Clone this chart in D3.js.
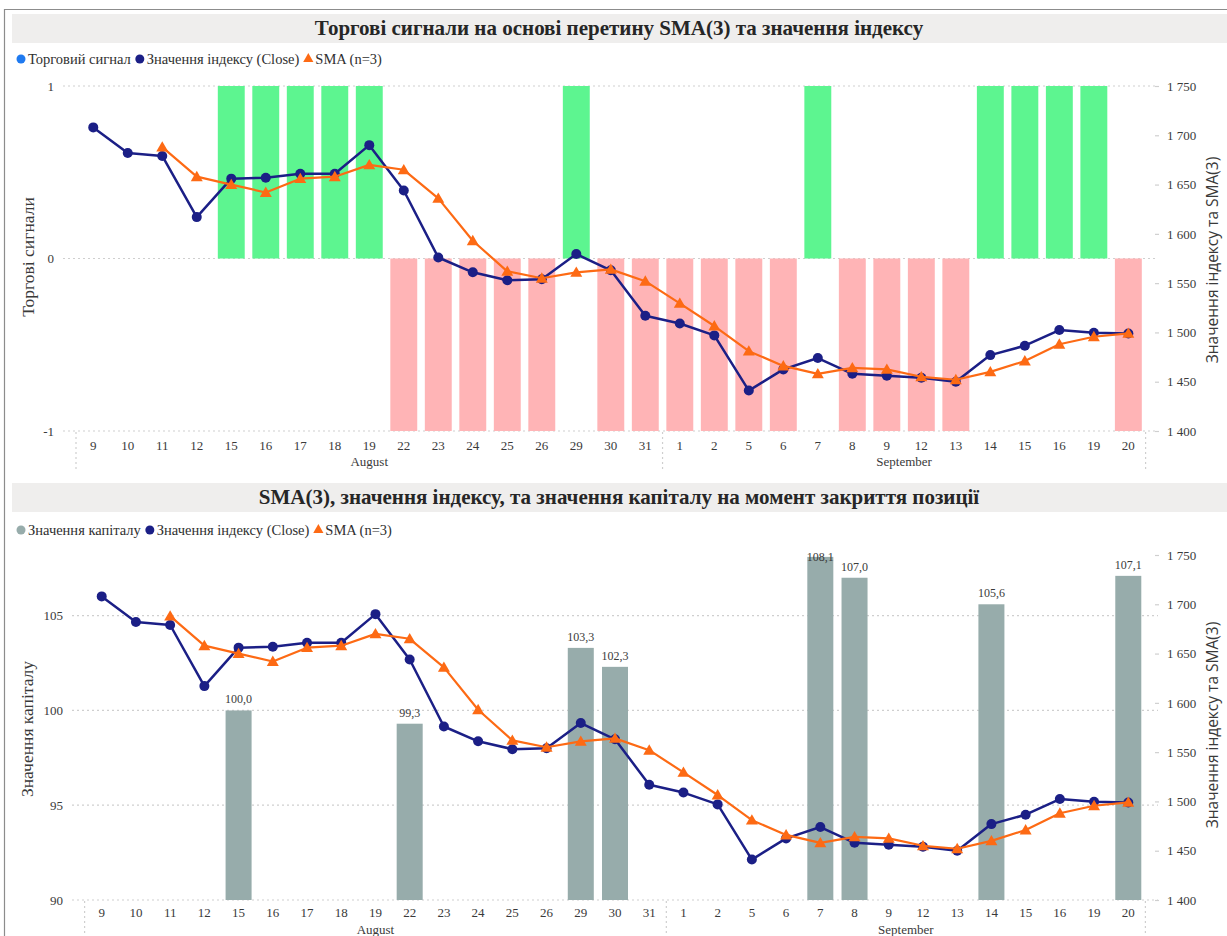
<!DOCTYPE html>
<html>
<head>
<meta charset="utf-8">
<script src="https://cdn.jsdelivr.net/npm/d3@7"></script>
<style>
  body { margin: 0; background: #fff; }
  svg { display: block; }
  svg text { font-family: "Liberation Serif", "Tinos", "DejaVu Serif", serif; fill: #3a3a3a; }
</style>
</head>
<body>
<svg id="chart" width="1227" height="936"></svg>
<script>
// Trading days (August – September)
const days = ["9","10","11","12","15","16","17","18","19","22","23","24","25","26","29","30","31",
              "1","2","5","6","7","8","9","12","13","14","15","16","19","20"];
const monthNames = ["August", "September"];
const monthLengths = [17, 14];

// Index close values
const closeValues = [1708, 1682, 1679, 1617, 1656, 1657, 1661, 1661, 1690, 1644, 1576, 1561, 1553, 1554, 1579.5, 1563, 1517,
                     1509, 1497, 1441, 1462.5, 1474, 1458, 1456, 1454, 1450, 1477, 1486.5, 1502.4, 1499.7, 1499];
// Simple moving average, n = 3
const smaValues = [null, null, 1688, 1658, 1650, 1642, 1656, 1658, 1670, 1665, 1636, 1593, 1562, 1555, 1561, 1564, 1552,
                   1529.5, 1506.5, 1481, 1466, 1458, 1464, 1462.5, 1455, 1452, 1460, 1471, 1488, 1495.6, 1499];
// Trading signal: 1 = buy, -1 = sell, 0 = none
const signalValues = [0, 0, 0, 0, 1, 1, 1, 1, 1, -1, -1, -1, -1, -1, 1, -1, -1,
                      -1, -1, -1, -1, 1, -1, -1, -1, -1, 1, 1, 1, 1, -1];
// Capital when a position is closed
const capitalValues = [null, null, null, null, 100.0, null, null, null, null, 99.3, null, null, null, null, 103.3, 102.3, null,
                       null, null, null, null, 108.1, 107.0, null, null, null, 105.6, null, null, null, 107.1];

const signalTicks = [-1, 0, 1];
const capitalTicks = [90, 95, 100, 105];
const indexTicks = [1400, 1450, 1500, 1550, 1600, 1650, 1700, 1750];

const colors = {
  buy: "#5df590",
  sell: "#ffb4b6",
  close: "#1b1f86",
  sma: "#fd6a14",
  capital: "#97acab",
  signal: "#1f7af0",
  grid: "#cfcfcf",
  titleBg: "#efeeed"
};

const SERIF = '"Liberation Serif", "Tinos", "DejaVu Serif", serif';

const uaLocale = d3.formatLocale({ decimal: ",", thousands: "\u00a0", grouping: [3], currency: ["", ""], minus: "-" });
const fmtIndex = uaLocale.format(",.0f");
const fmtCapital = uaLocale.format(".1f");
const fmtPlain = uaLocale.format("d");

const svg = d3.select("#chart");

// outer frame
svg.append("path")
  .attr("d", "M4.5,936 V9.5 H1227")
  .attr("fill", "none")
  .attr("stroke", "#8c8c8c")
  .attr("stroke-width", 1.2);

function drawTitle(y, text) {
  svg.append("rect").attr("x", 12).attr("y", y).attr("width", 1215).attr("height", 29).attr("fill", colors.titleBg);
  svg.append("text")
    .attr("x", 619).attr("y", y + 21)
    .attr("text-anchor", "middle")
    .style("font-family", SERIF)
    .style("font-size", "21px").style("font-weight", "bold").style("fill", "#262626")
    .text(text);
}

function drawLegend(y, items) {
  const g = svg.append("g").attr("transform", `translate(0,${y})`);
  let xPos = 21;
  items.forEach(item => {
    if (item.shape === "triangle") {
      g.append("path")
        .attr("d", d3.symbol(d3.symbolTriangle, 45)())
        .attr("transform", `translate(${xPos},0)`)
        .attr("fill", item.color);
    } else {
      g.append("circle").attr("cx", xPos).attr("cy", 0).attr("r", 4.5).attr("fill", item.color);
    }
    const t = g.append("text")
      .attr("x", xPos + 7).attr("y", 5)
      .style("font-family", SERIF)
      .style("font-size", "14.5px").style("fill", "#303030")
      .text(item.label);
    xPos += 7 + t.node().getComputedTextLength() + 9;
  });
}

function styleTicks(sel) {
  sel.selectAll("text")
    .style("font-size", "13px").style("font-family", SERIF).style("fill", "#3a3a3a");
}

function drawPanel(p) {
  const g = svg.append("g");
  const x = d3.scaleBand().domain(d3.range(days.length)).range([p.xStart, p.xEnd]).paddingInner(p.pad).paddingOuter(p.pad / 2);
  const cx = i => x(i) + x.bandwidth() / 2;
  const yL = d3.scaleLinear().domain(p.leftDomain).range([p.bottom, p.top]);
  const yR = d3.scaleLinear().domain([1400, 1750]).range([p.bottom, p.top]);

  // horizontal gridlines
  g.append("g").selectAll("line").data(p.leftTicks).join("line")
    .attr("x1", p.gridStart).attr("x2", 1158)
    .attr("y1", d => yL(d)).attr("y2", d => yL(d))
    .attr("stroke", colors.grid).attr("stroke-width", 1.2).attr("stroke-dasharray", "2,3");

  // left axis
  const ax = g.append("g").attr("transform", `translate(${p.gridStart},0)`)
    .call(d3.axisLeft(yL).tickValues(p.leftTicks).tickSize(0).tickPadding(9).tickFormat(fmtPlain));
  ax.select(".domain").remove();
  styleTicks(ax);

  // right axis
  const ar = g.append("g").attr("transform", "translate(1155,0)")
    .call(d3.axisRight(yR).tickValues(indexTicks).tickSize(4).tickPadding(8).tickFormat(fmtIndex));
  ar.select(".domain").remove();
  ar.selectAll("line").attr("stroke", colors.grid).attr("stroke-width", 1.2);
  styleTicks(ar);

  // category axis
  const ab = g.append("g").attr("transform", `translate(0,${p.bottom})`)
    .call(d3.axisBottom(x).tickSize(0).tickPadding(p.tickPad).tickFormat(i => days[i]));
  ab.select(".domain").remove();
  styleTicks(ab);

  // month labels and group separators
  let startIdx = 0;
  const seps = [x(0) - x.step() * x.paddingOuter()];
  monthNames.forEach((m, k) => {
    const endIdx = startIdx + monthLengths[k] - 1;
    g.append("text")
      .attr("x", (cx(startIdx) + cx(endIdx)) / 2).attr("y", p.bottom + p.monthDy)
      .attr("text-anchor", "middle")
      .style("font-family", SERIF).style("font-size", "13px").style("fill", "#3a3a3a")
      .text(m);
    seps.push(cx(endIdx) + x.step() / 2);
    startIdx = endIdx + 1;
  });
  g.append("g").selectAll("line").data(seps).join("line")
    .attr("x1", d => d).attr("x2", d => d)
    .attr("y1", p.bottom + 1).attr("y2", p.bottom + p.sepLen)
    .attr("stroke", colors.grid).attr("stroke-width", 1.2).attr("stroke-dasharray", "2,3");

  p.drawBars(g, x, yL);

  // index close line
  const closeLine = d3.line().x((d, i) => cx(i)).y(d => yR(d));
  g.append("path").datum(closeValues)
    .attr("d", closeLine).attr("fill", "none")
    .attr("stroke", colors.close).attr("stroke-width", 2.5).attr("stroke-linejoin", "round");
  g.append("g").selectAll("circle").data(closeValues).join("circle")
    .attr("cx", (d, i) => cx(i)).attr("cy", d => yR(d)).attr("r", 5)
    .attr("fill", colors.close);

  // SMA line
  const smaLine = d3.line().defined(d => d != null).x((d, i) => cx(i)).y(d => yR(d));
  g.append("path").datum(smaValues)
    .attr("d", smaLine).attr("fill", "none")
    .attr("stroke", colors.sma).attr("stroke-width", 2.2).attr("stroke-linejoin", "round");
  g.append("g").selectAll("path").data(smaValues.map((v, i) => ({ v, i })).filter(d => d.v != null)).join("path")
    .attr("d", d3.symbol(d3.symbolTriangle, 62)())
    .attr("transform", d => `translate(${cx(d.i)},${yR(d.v) + 1})`)
    .attr("fill", colors.sma);

  // axis titles
  g.append("text")
    .attr("transform", `translate(${p.leftTitleX},${p.leftTitleY}) rotate(-90)`)
    .attr("text-anchor", "middle").attr("dy", "0.35em")
    .style("font-family", SERIF).style("font-size", "17.5px").style("fill", "#3a3a3a")
    .text(p.leftTitle);
  g.append("text")
    .attr("transform", `translate(1213,${p.rightTitleY}) rotate(-90)`)
    .attr("text-anchor", "middle").attr("dy", "0.35em")
    .style("font-size", "15.5px").style("font-family", "'Open Sans', 'DejaVu Sans', sans-serif").style("fill", "#3a3a3a")
    .text("Значення індексу та SMA(3)");
}

// ---------- Panel 1: trading signals ----------
drawTitle(14, "Торгові сигнали на основі перетину SMA(3) та значення індексу");
drawLegend(59, [
  { label: "Торговий сигнал", shape: "circle", color: colors.signal },
  { label: "Значення індексу (Close)", shape: "circle", color: colors.close },
  { label: "SMA (n=3)", shape: "triangle", color: colors.sma }
]);
drawPanel({
  xStart: 76, xEnd: 1145.6, pad: 0.22,
  top: 86, bottom: 431,
  leftDomain: [-1, 1], leftTicks: signalTicks,
  gridStart: 63, tickPad: 10, monthDy: 35, sepLen: 40,
  leftTitle: "Торгові сигнали", leftTitleX: 28, leftTitleY: 257,
  rightTitleY: 260,
  drawBars: (g, x, yL) => {
    g.append("g").selectAll("rect").data(signalValues.map((v, i) => ({ v, i })).filter(d => d.v !== 0)).join("rect")
      .attr("x", d => x(d.i)).attr("width", x.bandwidth())
      .attr("y", d => Math.min(yL(0), yL(d.v)))
      .attr("height", d => Math.abs(yL(d.v) - yL(0)))
      .attr("fill", d => d.v > 0 ? colors.buy : colors.sell);
  }
});

// ---------- Panel 2: capital ----------
drawTitle(483, "SMA(3), значення індексу, та значення капіталу на момент закриття позиції");
drawLegend(530, [
  { label: "Значення капіталу", shape: "circle", color: colors.capital },
  { label: "Значення індексу (Close)", shape: "circle", color: colors.close },
  { label: "SMA (n=3)", shape: "triangle", color: colors.sma }
]);
drawPanel({
  xStart: 84.6, xEnd: 1145.4, pad: 0.24,
  top: 555, bottom: 900,
  leftDomain: [90, 108.2], leftTicks: capitalTicks,
  gridStart: 72, tickPad: 8, monthDy: 34, sepLen: 36,
  leftTitle: "Значення капіталу", leftTitleX: 27, leftTitleY: 729,
  rightTitleY: 725,
  drawBars: (g, x, yL) => {
    const data = capitalValues.map((v, i) => ({ v, i })).filter(d => d.v != null);
    g.append("g").selectAll("rect").data(data).join("rect")
      .attr("x", d => x(d.i)).attr("width", x.bandwidth())
      .attr("y", d => yL(d.v)).attr("height", d => yL(90) - yL(d.v))
      .attr("fill", colors.capital);
    g.append("g").selectAll("text").data(data).join("text")
      .attr("x", d => x(d.i) + x.bandwidth() / 2)
      .attr("y", d => Math.max(yL(d.v) - 7, 561))
      .attr("text-anchor", "middle")
      .style("font-family", SERIF).style("font-size", "12px").style("fill", "#3a3a3a")
      .text(d => fmtCapital(d.v));
  }
});
</script>
</body>
</html>
